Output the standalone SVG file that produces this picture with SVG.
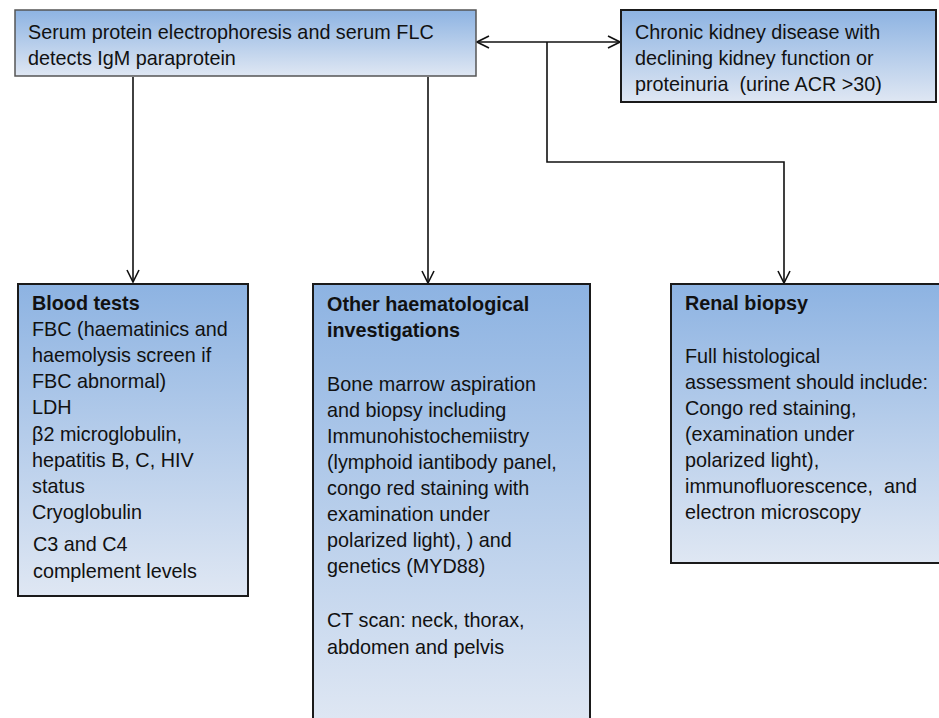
<svg xmlns="http://www.w3.org/2000/svg" width="939" height="718" viewBox="0 0 939 718">
<style>
text{font-family:"Liberation Sans",Arial,sans-serif;font-size:19.8px;fill:#111;white-space:pre}
.b{font-weight:bold}
.box{fill:url(#g);stroke:#1a1a1a;stroke-width:2}
.top{fill:url(#g);stroke:#555;stroke-width:1.5}
.c{fill:none;stroke:#111;stroke-width:1.6}
</style>
<defs>
<linearGradient id="g" x1="0" y1="0" x2="0" y2="1">
<stop offset="0" stop-color="#8db3e2"/>
<stop offset="1" stop-color="#dfe7f3"/>
</linearGradient>
<marker id="a" viewBox="0 0 14 14" refX="13" refY="7" markerWidth="14" markerHeight="14" markerUnits="userSpaceOnUse" orient="auto-start-reverse">
<path d="M1 1 L13 7 L1 13" fill="none" stroke="#111" stroke-width="1.6"/>
</marker>
</defs>
<g id="connectors">
<line class="c" x1="477" y1="42" x2="620" y2="42" marker-start="url(#a)" marker-end="url(#a)"/>
<polyline class="c" points="547,42 547,162 784,162 784,283" marker-end="url(#a)"/>
<line class="c" x1="133" y1="77" x2="133" y2="282" marker-end="url(#a)"/>
<line class="c" x1="428" y1="77" x2="428" y2="283" marker-end="url(#a)"/>
</g>
<g id="serum">
<rect class="top" x="15" y="10" width="461" height="66"/>
<text x="28" y="38.5">Serum protein electrophoresis and serum FLC</text>
<text x="28" y="64.5">detects IgM paraprotein</text>
</g>
<g id="ckd">
<rect class="box" x="621" y="10" width="315" height="92"/>
<text x="635" y="38.5">Chronic kidney disease with</text>
<text x="635" y="64.5">declining kidney function or</text>
<text x="635" y="90.5">proteinuria  (urine ACR &gt;30)</text>
</g>
<g id="blood">
<rect class="box" x="18" y="284" width="230" height="312"/>
<text x="32" y="309.5" class="b">Blood tests</text>
<text x="32" y="335.5">FBC (haematinics and</text>
<text x="32" y="361.5">haemolysis screen if</text>
<text x="32" y="387.5">FBC abnormal)</text>
<text x="32" y="413.5">LDH</text>
<text x="32" y="440.5">β2 microglobulin,</text>
<text x="32" y="466.5">hepatitis B, C, HIV</text>
<text x="32" y="492.5">status</text>
<text x="32" y="518.5">Cryoglobulin</text>
<text x="33" y="550.5">C3 and C4</text>
<text x="33" y="577.5">complement levels</text>
</g>
<g id="haem">
<rect class="box" x="313" y="284" width="277" height="440"/>
<text x="327" y="310.5" class="b">Other haematological</text>
<text x="327" y="336.5" class="b">investigations</text>
<text x="327" y="390.5">Bone marrow aspiration</text>
<text x="327" y="416.5">and biopsy including</text>
<text x="327" y="442.5">Immunohistochemiistry</text>
<text x="327" y="468.5">(lymphoid iantibody panel,</text>
<text x="327" y="494.5">congo red staining with</text>
<text x="327" y="520.5">examination under</text>
<text x="327" y="546.5">polarized light), ) and</text>
<text x="327" y="572.5">genetics (MYD88)</text>
<text x="327" y="626.5">CT scan: neck, thorax,</text>
<text x="327" y="653.5">abdomen and pelvis</text>
</g>
<g id="renal">
<rect class="box" x="671" y="284" width="275" height="279"/>
<text x="685" y="309.5" class="b">Renal biopsy</text>
<text x="685" y="362.5">Full histological</text>
<text x="685" y="388.5">assessment should include:</text>
<text x="685" y="414.5">Congo red staining,</text>
<text x="685" y="440.5">(examination under</text>
<text x="685" y="466.5">polarized light),</text>
<text x="685" y="492.5">immunofluorescence,  and</text>
<text x="685" y="518.5">electron microscopy</text>
</g>
</svg>
